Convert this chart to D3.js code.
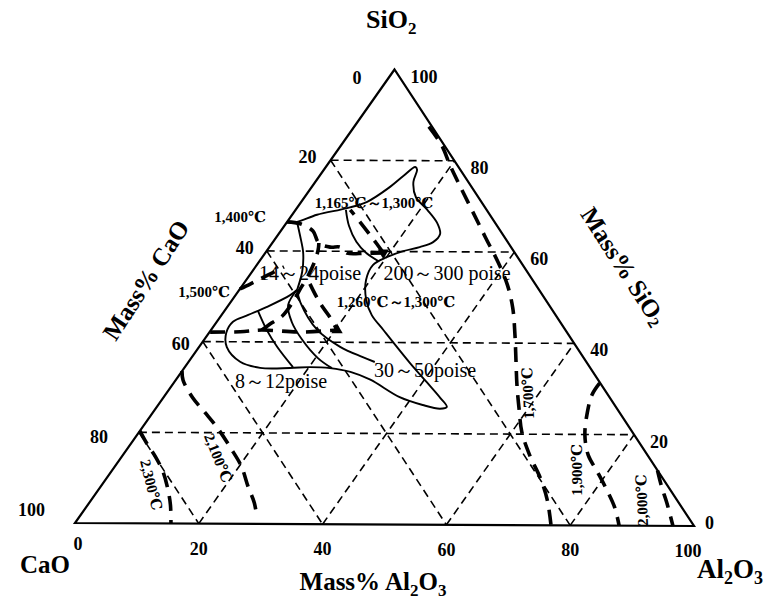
<!DOCTYPE html>
<html>
<head>
<meta charset="utf-8">
<script src="https://cdn.jsdelivr.net/npm/d3@7"></script>
<style>
  body { margin: 0; background: #fff; }
  svg { display: block; }
  text { font-family: "Liberation Serif", "Times New Roman", "DejaVu Serif", serif; fill: #000; }
</style>
</head>
<body>
<div id="chart"></div>
<script>
// ----------------------------------------------------------
// CaO - Al2O3 - SiO2 ternary diagram (mass %)
// every point is [Al2O3, SiO2], CaO is the rest up to 100
// ----------------------------------------------------------

var gridValues = [20, 40, 60, 80];
var tickValues = [0, 20, 40, 60, 80, 100];

// solid outline of the low melting / viscosity region
var regionOutline = [
  [0, 66.3], [1.6, 66.4], [4.0, 68.0], [8.1, 69.5], [10.6, 70.9], [12.6, 74.2],
  [13.5, 76.6], [14.4, 78.6], [15.0, 78.0], [15.8, 75.3], [17.9, 72.0], [21.2, 69.2],
  [24.3, 66.3], [26.0, 63.9], [25.8, 62.1], [24.2, 61.0], [22.0, 60.1], [20.1, 58.8],
  [18.7, 57.0], [19.3, 53.7], [21.6, 49.3], [24.2, 46.0], [27.7, 42.8], [35.8, 35.5],
  [40.8, 31.2], [44.6, 27.9], [46.7, 25.9], [45.8, 25.5], [42.6, 26.3], [38.0, 28.0],
  [31.3, 31.8], [27.2, 33.5], [23.5, 34.3], [20.1, 34.5], [17.0, 34.3], [12.2, 34.3],
  [8.3, 35.6], [4.5, 38.8], [2.8, 41.9], [2.6, 44.4], [4.3, 45.9], [6.4, 47.7],
  [8.8, 50.3], [9.3, 51.5]
];

// solid inner lines (region divide and iso-viscosity lines)
var upperDivide = [[9.3, 51.5], [8.1, 55.4], [6.1, 59.6], [3.7, 63.3], [1.6, 66.4]];
var poise200 = [[8.1, 69.1], [10.4, 65.6], [13.4, 62.1], [16.2, 59.7], [19.1, 57.9]];
var poise14 = [[9.3, 51.5], [9.6, 48.1], [12.1, 44.4], [15.8, 40.5], [20.4, 36.5], [23.8, 34.3]];
var poise30 = [[9.3, 51.5], [11.2, 48.8], [17.1, 42.7], [22.7, 39.0], [27.4, 36.8], [30.0, 35.7]];
var poise8 = [[5.4, 46.8], [9.0, 42.6], [12.6, 38.9], [17.4, 34.5]];

// heavy dashed lines: isotherms and field boundaries
var iso1400 = [[0, 66.4], [2.3, 66.0], [5.2, 64.4], [7.5, 61.8], [9.8, 60.9], [11.4, 60.9],
  [13.2, 59.6], [16.1, 59.6], [19.0, 59.7]];
var boundaryTop = [[19.0, 59.7], [15.5, 63.0], [11.7, 66.5], [8.8, 69.1]];
var iso1500 = [[0, 51.6], [1.1, 52.7], [2.1, 53.8], [3.4, 55.2], [4.6, 56.5]];
var boundaryLeft = [[0.1, 42.1], [4.9, 42.2], [8.2, 42.6], [14.6, 42.2], [20.3, 42.7]];
var boundaryMid = [[8.2, 42.6], [9.0, 44.2], [9.9, 45.7], [10.0, 48.8], [9.7, 51.9],
  [9.5, 54.5], [9.0, 57.4], [8.2, 60.2], [7.5, 61.8]];
var boundaryLow = [[10.7, 52.8], [13.1, 50.1], [15.2, 47.9], [17.7, 45.5], [20.3, 42.7]];
var iso1700 = [[12.0, 87.5], [16.1, 83.5], [19.9, 78.9], [23.9, 74.3], [28.4, 69.2],
  [33.6, 63.3], [38.5, 57.8], [42.6, 52.8], [46.1, 47.7], [49.5, 41.8], [52.5, 36.3],
  [55.5, 30.8], [58.7, 25.3], [61.6, 20.5], [65.5, 15.4], [69.8, 10.4], [73.4, 5.6], [76.9, 0]];
var iso1900 = [[68.6, 31.3], [68.7, 28.7], [70.0, 24.7], [72.1, 19.9], [74.9, 15.5],
  [78.3, 11.8], [81.9, 7.8], [85.2, 3.9], [87.9, 0]];
var iso2000 = [[87.8, 12.2], [90.4, 8.5], [92.9, 5.2], [96.6, 0]];
var iso2100 = [[0, 33.5], [1.2, 31.5], [4.8, 27.6], [8.3, 24.5], [12.2, 21.0], [16.6, 16.6],
  [20.3, 12.7], [23.8, 8.1], [26.6, 4.6], [28.6, 1.5]];
var iso2300 = [[0, 20.3], [2.4, 17.7], [5.3, 14.8], [8.4, 11.3], [11.2, 7.4], [13.3, 4.1], [15.5, 0]];

// eutectic points
var eutectics = [[19.0, 59.7], [20.3, 42.7]];
var eutecticDir = ["down", "up"];

// texts
var tempLabels = ["1,400℃", "1,500℃", "1,165℃～1,300℃", "1,260℃～1,300℃",
  "1,700℃", "1,900℃", "2,000℃", "2,100℃", "2,300℃"];
var poiseLabels = ["14～24poise", "200～300 poise", "8～12poise", "30～50poise"];

// --------------------------------------------------
// layout
// --------------------------------------------------
var width = 771;
var height = 604;

var vCa = [75, 523];
var vAl = [694, 526];
var vSi = [394.5, 69.5];

var alX = d3.scaleLinear().domain([0, 100]).range([0, vAl[0] - vCa[0]]);
var alY = d3.scaleLinear().domain([0, 100]).range([0, vAl[1] - vCa[1]]);
var siX = d3.scaleLinear().domain([0, 100]).range([0, vSi[0] - vCa[0]]);
var siY = d3.scaleLinear().domain([0, 100]).range([0, vSi[1] - vCa[1]]);

function project(al, si) {
  return [vCa[0] + alX(al) + siX(si), vCa[1] + alY(al) + siY(si)];
}

var curveLine = d3.line()
  .x(function(d) { return project(d[0], d[1])[0]; })
  .y(function(d) { return project(d[0], d[1])[1]; })
  .curve(d3.curveCatmullRom.alpha(0.5));

var straightLine = d3.line()
  .x(function(d) { return project(d[0], d[1])[0]; })
  .y(function(d) { return project(d[0], d[1])[1]; });

var tempPos = [[240, 222, 0], [204, 297, 0], [374, 208, 0], [396, 307, 0],
  [528, 393, -92], [577, 470, -90], [642, 500, -92], [218, 458, 68], [151, 485, 76]];
var poisePos = [[310, 280], [447, 280], [281, 388], [425, 377]];

var leftShift = { 0: [-33, 8], 20: [-14, -3], 40: [-13, -3], 60: [-13, 2], 80: [-31, 5], 100: [-30, -13] };

var svg = d3.select("#chart")
  .append("svg")
  .attr("width", width)
  .attr("height", height);

// grid
var gridGroup = svg.append("g")
  .attr("fill", "none")
  .attr("stroke", "#000")
  .attr("stroke-width", 1.6)
  .attr("stroke-dasharray", "8,5");

gridValues.forEach(function(v) {
  // constant SiO2
  gridGroup.append("path").attr("d", straightLine([[0, v], [100 - v, v]]));
  // constant CaO
  gridGroup.append("path").attr("d", straightLine([[0, 100 - v], [100 - v, 0]]));
  // constant Al2O3
  gridGroup.append("path").attr("d", straightLine([[v, 0], [v, 100 - v]]));
});

// triangle
svg.append("path")
  .attr("d", straightLine([[0, 100], [0, 0], [100, 0]]) + "Z")
  .attr("fill", "none")
  .attr("stroke", "#000")
  .attr("stroke-width", 2.2)
  .attr("stroke-linejoin", "miter");

// heavy dashed lines
var heavy = [iso1400, boundaryTop, iso1500, boundaryLeft, boundaryMid, boundaryLow,
  iso1700, iso1900, iso2000, iso2100, iso2300];

svg.append("g")
  .selectAll("path")
  .data(heavy)
  .enter()
  .append("path")
  .attr("d", function(d) { return curveLine(d); })
  .attr("fill", "none")
  .attr("stroke", "#000")
  .attr("stroke-width", 3.6)
  .attr("stroke-dasharray", "15,9");

// solid curves
var solid = [regionOutline, upperDivide, poise200, poise14, poise30, poise8];

svg.append("g")
  .selectAll("path")
  .data(solid)
  .enter()
  .append("path")
  .attr("d", function(d) { return curveLine(d); })
  .attr("fill", "none")
  .attr("stroke", "#000")
  .attr("stroke-width", 1.9)
  .attr("stroke-linejoin", "round");

// eutectic markers
svg.append("g")
  .selectAll("path")
  .data(eutectics)
  .enter()
  .append("path")
  .attr("d", d3.symbol().type(d3.symbolTriangle).size(55))
  .attr("transform", function(d, i) {
    var p = project(d[0], d[1]);
    return "translate(" + p[0] + "," + p[1] + ") rotate(" + (eutecticDir[i] === "down" ? 180 : 0) + ")";
  })
  .attr("fill", "#000");

// tick labels
var tickGroup = svg.append("g")
  .attr("font-size", 18)
  .attr("font-weight", "bold");

tickValues.forEach(function(v) {
  // CaO on the left edge
  var pl = project(0, 100 - v);
  var s = leftShift[v];
  tickGroup.append("text")
    .attr("x", pl[0] + s[0])
    .attr("y", pl[1] + s[1])
    .attr("text-anchor", "end")
    .attr("dominant-baseline", "central")
    .text(v);

  // SiO2 on the right edge
  var pr = project(100 - v, v);
  tickGroup.append("text")
    .attr("x", pr[0] + (v === 0 ? 11 : 16))
    .attr("y", pr[1] + (v === 0 ? -3 : 7))
    .attr("dominant-baseline", "central")
    .text(v);

  // Al2O3 on the bottom edge
  var pb = project(v, 0);
  tickGroup.append("text")
    .attr("x", pb[0] + (v === 100 ? -6 : (v === 0 ? 3 : 0)))
    .attr("y", pb[1] + (v === 0 ? 27 : 31))
    .attr("text-anchor", "middle")
    .text(v);
});

// formula helper
function formula(sel, parts, subSize) {
  parts.forEach(function(p) {
    var isSub = /[0-9]/.test(p) && p.length === 1;
    var t = sel.append("tspan").text(p);
    if (isSub) {
      t.attr("font-size", subSize).attr("dy", subSize * 0.35);
    }
  });
  // reset baseline shifts
  sel.selectAll("tspan").each(function(d, i, nodes) {
    var prev = i > 0 ? nodes[i - 1] : null;
    var cur = d3.select(this);
    var curSub = cur.attr("dy") !== null;
    if (prev && d3.select(prev).attr("dy") !== null && !curSub) {
      cur.attr("dy", -subSize * 0.35);
    }
  });
}

var bold = svg.append("g").attr("font-weight", "bold");

// vertex names
formula(bold.append("text").attr("x", 366).attr("y", 28).attr("font-size", 26),
  ["Si", "O", "2"], 17);
formula(bold.append("text").attr("x", 20).attr("y", 573).attr("font-size", 25),
  ["CaO"], 17);
formula(bold.append("text").attr("x", 697).attr("y", 578).attr("font-size", 27),
  ["Al", "2", "O", "3"], 18);

// axis titles
bold.append("text")
  .attr("transform", "translate(146,280) rotate(-57)")
  .attr("text-anchor", "middle")
  .attr("dominant-baseline", "central")
  .attr("font-size", 25)
  .text("Mass% CaO");

formula(bold.append("text")
  .attr("transform", "translate(624,266) rotate(57)")
  .attr("text-anchor", "middle")
  .attr("dominant-baseline", "central")
  .attr("font-size", 25), ["Mass% SiO", "2"], 16);

formula(bold.append("text")
  .attr("x", 373)
  .attr("y", 590)
  .attr("text-anchor", "middle")
  .attr("font-size", 25), ["Mass% Al", "2", "O", "3"], 17);

// temperature labels
bold.append("g")
  .selectAll("text")
  .data(tempLabels)
  .enter()
  .append("text")
  .attr("font-size", 15)
  .attr("text-anchor", "middle")
  .attr("dominant-baseline", function(d, i) { return tempPos[i][2] === 0 ? "auto" : "central"; })
  .attr("transform", function(d, i) {
    return "translate(" + tempPos[i][0] + "," + tempPos[i][1] + ") rotate(" + tempPos[i][2] + ")";
  })
  .text(function(d) { return d; });

// viscosity labels
svg.append("g")
  .selectAll("text")
  .data(poiseLabels)
  .enter()
  .append("text")
  .attr("font-size", 20)
  .attr("text-anchor", "middle")
  .attr("x", function(d, i) { return poisePos[i][0]; })
  .attr("y", function(d, i) { return poisePos[i][1]; })
  .text(function(d) { return d; });
</script>
</body>
</html>
